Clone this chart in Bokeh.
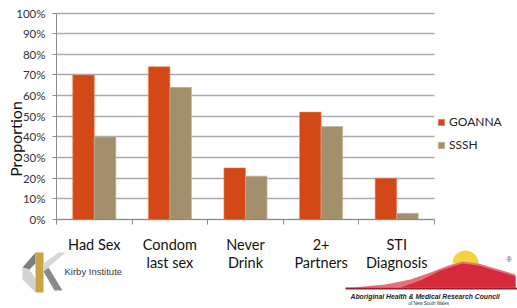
import math
from bokeh.plotting import figure
from bokeh.models import (FixedTicker, Range1d, Label, PolyAnnotation, Legend, LegendItem,
                          LinearAxis, Grid)
from bokeh.embed import file_html
from bokeh.resources import INLINE

categories = ["Had Sex", "Condom\nlast sex", "Never\nDrink", "2+\nPartners", "STI\nDiagnosis"]
goanna = [70, 74, 25, 52, 20]
sssh = [40, 64, 21, 45, 3]
y_ticks = [0, 10, 20, 30, 40, 50, 60, 70, 80, 90, 100]
series_names = ["GOANNA", "SSSH"]

FONT = "Lato"
C_GOANNA = "#D34817"
C_SSSH = "#A38F6B"

W, H = 517, 308
# pixel layout of the chart area inside the canvas
PX_LEFT, PX_RIGHT, PX_TOP, PX_BOTTOM = 56, 434, 12.5, 219

n = len(categories)
ppx = (PX_RIGHT - PX_LEFT) / n            # pixels per category
ppy = (PX_BOTTOM - PX_TOP) / 100.0        # pixels per percent
x_range = Range1d(-PX_LEFT / ppx, (W - PX_LEFT) / ppx)
y_range = Range1d(-(H - PX_BOTTOM) / ppy, 100 + PX_TOP / ppy)

centers = [i + 0.5 for i in range(n)]
bw = 0.285

p = figure(width=W, height=H, output_backend="svg", toolbar_location=None,
           x_range=x_range, y_range=y_range, x_axis_location=None, y_axis_location=None,
           min_border=0, min_border_left=0, min_border_right=0, min_border_top=0,
           min_border_bottom=0)
p.outline_line_color = None
p.background_fill_color = "white"
p.xgrid.visible = False
p.ygrid.visible = False

g = Grid(dimension=1, ticker=FixedTicker(ticks=y_ticks), cross_bounds=(0, n),
         grid_line_color="#ABABAB", grid_line_width=1.6)
p.add_layout(g)

r1 = p.vbar(x=[c - bw / 2 for c in centers], top=goanna, width=bw, fill_color=C_GOANNA,
            line_color="#E58A66", line_width=0.6)
r2 = p.vbar(x=[c + bw / 2 for c in centers], top=sssh, width=bw, fill_color=C_SSSH,
            line_color="#C2B49A", line_width=0.6)

# x axis
xa = LinearAxis(fixed_location=0, bounds=(0, n))
xa.ticker = FixedTicker(ticks=centers, minor_ticks=list(range(n + 1)))
xa.major_label_overrides = {c: lab for c, lab in zip(centers, categories)}
xa.major_tick_line_color = None
xa.minor_tick_line_color = "#8C8C8C"
xa.minor_tick_out = 5
xa.minor_tick_in = 0
xa.axis_line_color = "#8C8C8C"
xa.major_label_text_font = FONT
xa.major_label_text_font_size = "14.5px"
xa.major_label_text_color = "#111111"
xa.major_label_standoff = 10
xa.major_label_text_line_height = 1.1
p.add_layout(xa, "below")

# y axis
ya = LinearAxis(fixed_location=0, bounds=(0, 100))
ya.ticker = FixedTicker(ticks=y_ticks)
ya.major_label_overrides = {t: f"{t}%" for t in y_ticks}
ya.minor_tick_line_color = None
ya.major_tick_line_color = "#8C8C8C"
ya.major_tick_out = 4
ya.major_tick_in = 0
ya.axis_line_color = "#8C8C8C"
ya.major_label_text_font = FONT
ya.major_label_text_font_size = "11.5px"
ya.major_label_text_color = "#333333"
ya.major_label_standoff = 7
p.add_layout(ya, "left")


def sx(x):
    return x


def sy(y):
    return H - y


def poly(pts, color, alpha=1.0):
    p.add_layout(PolyAnnotation(xs=[sx(a) for a, b in pts], ys=[sy(b) for a, b in pts],
                                xs_units="screen", ys_units="screen",
                                fill_color=color, fill_alpha=alpha, line_color=None))


def label(x, y, text, **kw):
    p.add_layout(Label(x=sx(x), y=sy(y), x_units="screen", y_units="screen", text=text, **kw))


label(15, 138.5, "Proportion", angle=math.pi / 2, text_align="center", text_baseline="middle",
      text_font=FONT, text_font_size="16px", text_color="#111111")

legend = Legend(items=[LegendItem(label=series_names[0], renderers=[r1]),
                       LegendItem(label=series_names[1], renderers=[r2])],
                location=(437, sy(152)), orientation="vertical")
legend.border_line_color = None
legend.background_fill_alpha = 0
legend.padding = 0
legend.margin = 0
legend.spacing = 8
legend.glyph_width = 8
legend.glyph_height = 8
legend.label_height = 12
legend.label_standoff = 4
legend.label_text_font = FONT
legend.label_text_font_size = "12px"
legend.label_text_color = "#222222"
p.add_layout(legend, "center")

# Kirby Institute mark
poly([(22, 267), (35, 252), (35, 263), (29, 269)], "#7D7D7D")
poly([(22, 267), (29, 269), (35, 278), (35, 292), (22, 279)], "#D2D2D2")
poly([(35, 252), (43, 252), (43, 292), (35, 292)], "#C9A24A")
poly([(43, 263), (58, 252), (65, 252), (43, 271)], "#D6D6D6")
poly([(43, 271), (48, 267), (62, 290), (54, 290)], "#8A8A8A")
label(64, 276, "Kirby Institute", text_font="Liberation Sans", text_font_size="9.5px",
      text_color="#3A3A3A")

# AHMRC mark
sun = [(465 + 13 * math.cos(t / 20 * math.pi), 263 - 13 * math.sin(t / 20 * math.pi))
       for t in range(0, 21)]
poly(sun, "#F4D23C")
poly([(352, 287), (385, 284), (410, 279), (430, 272), (448, 265), (462, 261), (478, 263),
      (495, 268), (515, 274), (515, 287)], "#E8707A")
poly([(400, 287), (420, 280), (440, 270), (462, 263), (478, 265), (495, 270),
      (515, 276), (515, 287)], "#D42A3C")
poly([(345, 287), (517, 287), (517, 289), (345, 289)], "#9E1B2A")
label(350, 299, "Aboriginal Health & Medical Research Council", text_font="Liberation Sans",
      text_font_size="6.8px", text_font_style="bold italic", text_color="#222222")
label(408, 305, "of New South Wales", text_font="Liberation Sans", text_font_size="4.5px",
      text_color="#333333")
label(506, 262, "®", text_font="Liberation Sans", text_font_size="7px", text_color="#444444")

out = file_html(p, INLINE)
open("out.html", "w").write(out)
